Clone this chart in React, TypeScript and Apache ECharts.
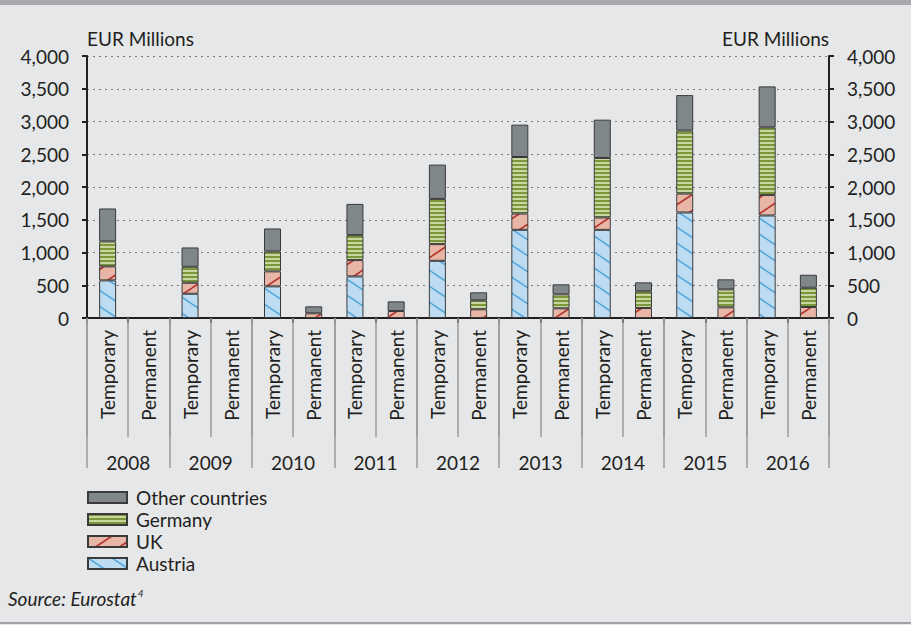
import React, { useEffect, useRef } from "react";
import * as echarts from "echarts";

const years = ["2008", "2009", "2010", "2011", "2012", "2013", "2014", "2015", "2016"];
const contractTypes = ["Temporary", "Permanent"];
const yTicks = [0, 500, 1000, 1500, 2000, 2500, 3000, 3500, 4000];

const austria = [574, null, 370, null, 483, null, 635, null, 873, null, 1346, null, 1346, null, 1611, null, 1565, null];
const uk = [214, null, 168, null, 229, 72, 249, 107, 255, 133, 249, 148, 189, 152, 289, 163, 314, 168];
const germany = [381, null, 244, null, 304, null, 381, null, 690, 137, 863, 213, 908, 255, 961, 274, 1032, 294];
const other = [503, null, 295, null, 351, 106, 477, 147, 524, 122, 494, 153, 585, 137, 542, 153, 625, 198];

const FONT = "Lato";
const FS = 19;
const TEXT = "#231f20";

function makeCanvas(w: number, h: number, draw: (c: CanvasRenderingContext2D) => void) {
  const cv = document.createElement("canvas");
  cv.width = w;
  cv.height = h;
  const ctx = cv.getContext("2d")!;
  draw(ctx);
  return cv;
}

export default function App() {
  const ref = useRef<HTMLDivElement>(null);
  useEffect(() => {
    if (!ref.current) return;
    const chart = echarts.init(ref.current, undefined, { renderer: "svg" });

    const austriaPat = makeCanvas(24, 16, (c) => {
      c.fillStyle = "#bddcf1";
      c.fillRect(0, 0, 24, 16);
      c.strokeStyle = "#55a9dd";
      c.lineWidth = 1.6;
      for (const dy of [-16, 0, 16]) {
        c.beginPath();
        c.moveTo(0, dy);
        c.lineTo(24, dy + 16);
        c.stroke();
      }
    });
    const ukPat = makeCanvas(24, 16, (c) => {
      c.fillStyle = "#e7b6a6";
      c.fillRect(0, 0, 24, 16);
      c.strokeStyle = "#b5322a";
      c.lineWidth = 1.6;
      for (const dy of [-16, 0, 16]) {
        c.beginPath();
        c.moveTo(0, dy + 16);
        c.lineTo(24, dy);
        c.stroke();
      }
    });
    const gerPat = makeCanvas(4, 4, (c) => {
      c.fillStyle = "#c8d6a2";
      c.fillRect(0, 0, 4, 4);
      c.fillStyle = "#7b973a";
      c.fillRect(0, 0, 4, 2);
    });

    const categories: string[] = [];
    years.forEach(() => contractTypes.forEach((t) => categories.push(t)));

    const mkSeries = (name: string, data: (number | null)[], color: any) => ({
      name,
      type: "bar",
      stack: "total",
      barWidth: 17,
      data,
      xAxisIndex: 0,
      yAxisIndex: 0,
      itemStyle: { color, borderColor: "#3a3a3a", borderWidth: 1 },
    });

    const yAxisCommon = {
      type: "value",
      min: 0,
      max: 4000,
      interval: 500,
      name: "EUR Millions",
      nameLocation: "end",
      nameGap: 8,
      axisLine: { show: true, lineStyle: { color: TEXT, width: 2 } },
      axisTick: { show: true, length: 5, lineStyle: { color: TEXT, width: 2 } },
      splitLine: { show: false },
      axisLabel: {
        color: TEXT,
        fontFamily: FONT,
        fontSize: FS,
        margin: 18,
        formatter: (v: number) => (yTicks.includes(v) ? v.toLocaleString("en-US") : ""),
      },
    };

    chart.setOption({
      animation: false,
      backgroundColor: "#e6e7e9",
      grid: { left: 87, right: 82, top: 56, bottom: 307, containLabel: false },
      legend: {
        orient: "vertical",
        left: 82,
        top: 483,
        itemWidth: 39,
        itemHeight: 11,
        itemGap: 3,
        icon: "rect",
        data: ["Other countries", "Germany", "UK", "Austria"],
        textStyle: { color: TEXT, fontFamily: FONT, fontSize: FS, lineHeight: 19, padding: [0, 0, 0, 4] },
        selectedMode: false,
      },
      xAxis: [
        {
          type: "category",
          position: "bottom",
          data: categories,
          boundaryGap: true,
          axisLine: { show: true, lineStyle: { color: TEXT, width: 2 } },
          axisTick: { show: true, interval: 0, length: 5, lineStyle: { color: TEXT, width: 2 } },
          axisLabel: {
            interval: 0,
            rotate: 90,
            margin: 12,
            color: TEXT,
            fontFamily: FONT,
            fontSize: FS,
          },
        },
        {
          type: "category",
          position: "bottom",
          offset: 0,
          data: categories,
          boundaryGap: true,
          axisLine: { show: false },
          axisTick: { show: true, interval: 0, length: 119, lineStyle: { color: "#9a9b9d", width: 1.5 } },
          axisLabel: { show: false },
        },
        {
          type: "category",
          position: "bottom",
          offset: 0,
          data: years,
          boundaryGap: true,
          axisLine: { show: false },
          axisTick: { show: true, interval: 0, length: 150, lineStyle: { color: "#9a9b9d", width: 1.5 } },
          axisLabel: {
            interval: 0,
            margin: 135,
            color: TEXT,
            fontFamily: FONT,
            fontSize: FS,
          },
        },
      ],
      yAxis: [
        {
          ...yAxisCommon,
          position: "left",
          splitLine: { show: true, lineStyle: { color: "#7a7b7d", type: [2, 4], width: 1.2 } },
          nameTextStyle: { color: TEXT, fontFamily: FONT, fontSize: FS, align: "left" },
        },
        {
          ...yAxisCommon,
          position: "right",
          nameTextStyle: { color: TEXT, fontFamily: FONT, fontSize: FS, align: "right" },
        },
      ],
      graphic: [
        { type: "rect", left: 0, top: 0, shape: { width: 911, height: 5 }, style: { fill: "#a7a9ac" } },
        { type: "rect", left: 0, top: 622, shape: { width: 911, height: 2 }, style: { fill: "#a0a2a5" } },
        {
          type: "text",
          left: 8,
          top: 588,
          style: {
            text: "{a|Source: Eurostat}{b|4}",
            fill: TEXT,
            rich: {
              a: { fontFamily: FONT, fontSize: 19, fontStyle: "italic", fill: TEXT, lineHeight: 20, verticalAlign: "bottom" },
              b: { fontFamily: FONT, fontSize: 10, fontStyle: "italic", fill: TEXT, lineHeight: 20, verticalAlign: "top", padding: [0, 0, 8, 1] },
            },
          },
        },
      ],
      series: [
        mkSeries("Austria", austria, { image: austriaPat, repeat: "repeat" }),
        mkSeries("UK", uk, { image: ukPat, repeat: "repeat" }),
        mkSeries("Germany", germany, { image: gerPat, repeat: "repeat" }),
        mkSeries("Other countries", other, "#7f878a"),
      ],
    });
    return () => chart.dispose();
  }, []);
  return (
    <div
      ref={ref}
      style={{ position: "fixed", left: 0, top: 0, width: 911, height: 625 }}
    />
  );
}
